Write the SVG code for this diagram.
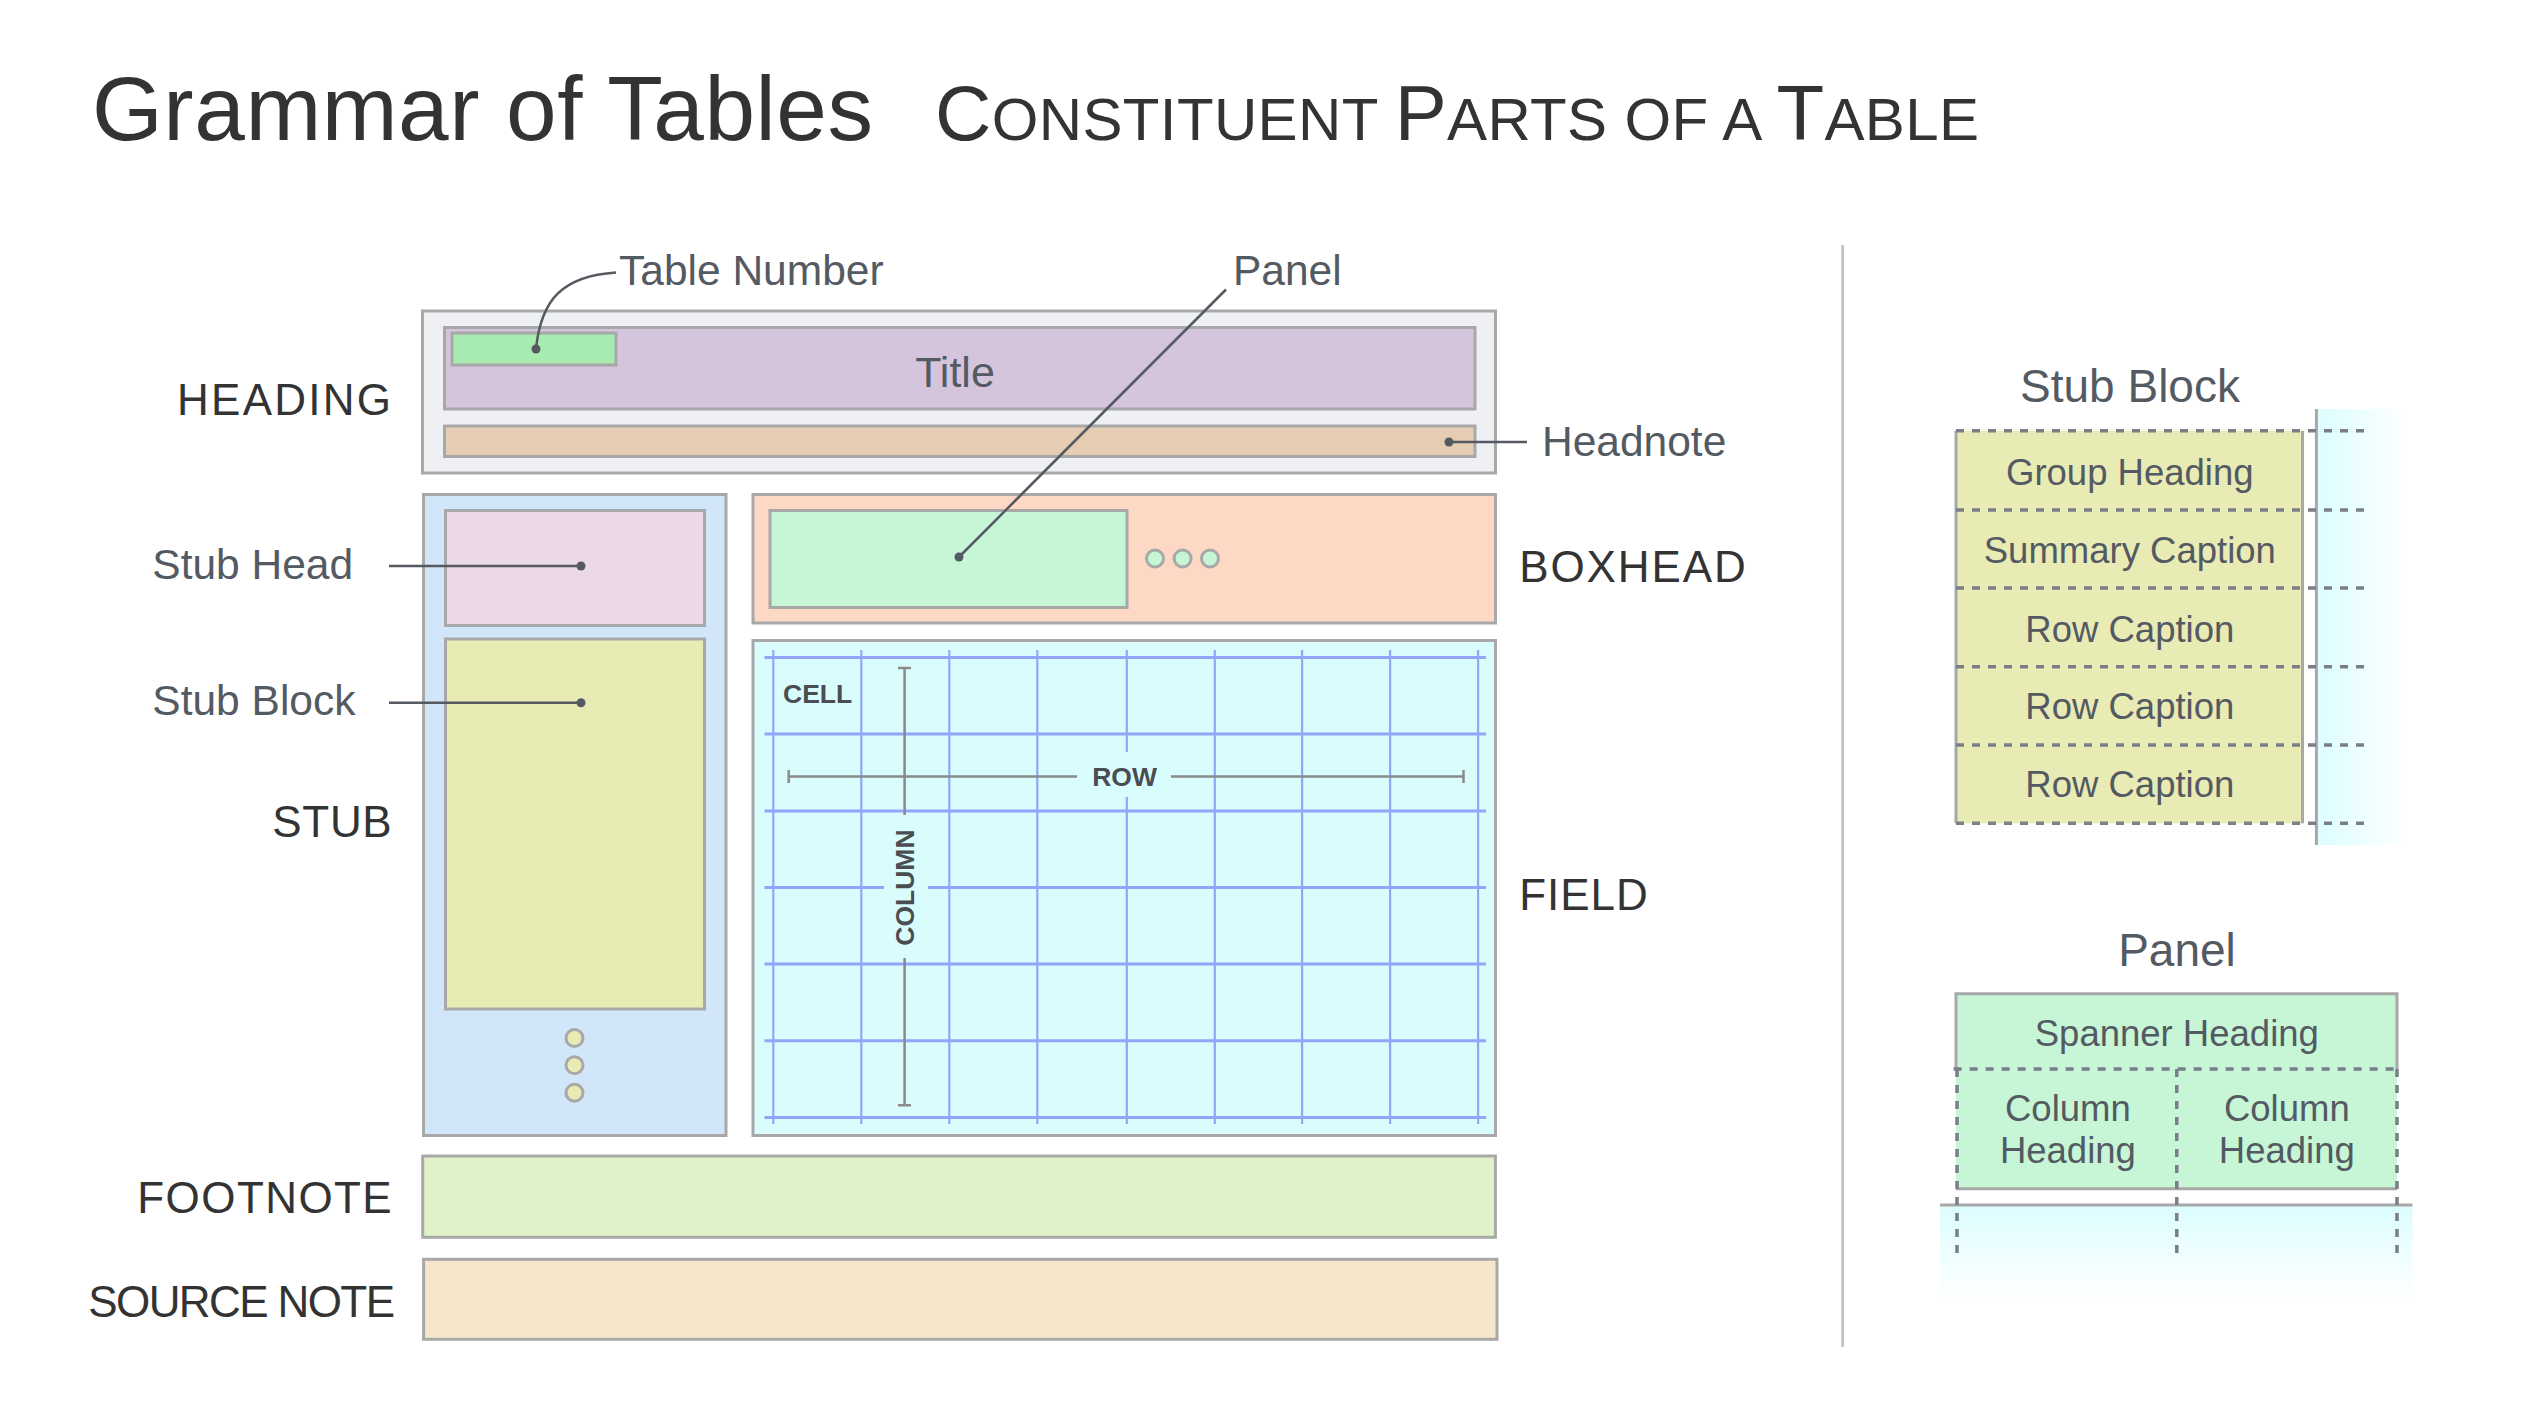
<svg xmlns="http://www.w3.org/2000/svg" width="2530" height="1404" viewBox="0 0 2530 1404">
<defs>
<style>
.t{font-family:"Helvetica Neue","Liberation Sans",Arial,sans-serif;}
.dark{fill:#333333;}
.soft{fill:#545a62;}
.box{stroke:#a8a8a8;stroke-width:3;}
.lead{stroke:#555a62;stroke-width:2.5;fill:none;}
.dot{fill:#555a62;}
.gh{stroke:#94a4fb;stroke-width:3;}
.gv{stroke:#94a4fb;stroke-width:2.2;}
.meas{stroke:#8a8a8a;stroke-width:2.5;fill:none;}
.dash{stroke:#7a7f87;stroke-width:3.5;stroke-dasharray:8 8;fill:none;}
.bold{font-weight:bold;fill:#4a4d52;font-size:26.5px;}
.cap{font-size:44px;}
.lab{font-size:42.5px;}
.rt{font-size:36.5px;}
</style>
<linearGradient id="gH" x1="0" y1="0" x2="1" y2="0">
<stop offset="0" stop-color="#dcfdff"/>
<stop offset="1" stop-color="#ffffff"/>
</linearGradient>
<linearGradient id="gV" x1="0" y1="0" x2="0" y2="1">
<stop offset="0" stop-color="#dcfdff"/>
<stop offset="1" stop-color="#ffffff"/>
</linearGradient>
</defs>
<rect width="2530" height="1404" fill="#ffffff"/>

<g id="title">
<text class="t dark" x="92" y="140" font-size="91" textLength="781" lengthAdjust="spacing">Grammar of Tables</text>
<text class="t dark" x="935" y="140" font-size="60" textLength="1044" lengthAdjust="spacing"><tspan font-size="78">C</tspan>ONSTITUENT <tspan font-size="78">P</tspan>ARTS OF A <tspan font-size="78">T</tspan>ABLE</text>
</g>

<g id="heading">
<rect class="box" x="422.5" y="311" width="1073" height="162" fill="#eff0f4"/>
<rect class="box" x="444.5" y="327.5" width="1030.5" height="81.5" fill="#d4c5dd"/>
<text class="t soft" x="955" y="386.5" font-size="43" text-anchor="middle">Title</text>
<rect class="box" x="452" y="333" width="164" height="32" fill="#a8ebb0"/>
<rect class="box" x="444.5" y="426" width="1030.5" height="30.5" fill="#e4cdb3"/>
<text class="t dark cap" x="391" y="415" text-anchor="end" textLength="214" lengthAdjust="spacing">HEADING</text>
</g>

<g id="table-number-label"><text class="t soft lab" x="619" y="285">Table Number</text></g>
<g id="panel-label"><text class="t soft lab" x="1233" y="285">Panel</text></g>
<g id="headnote-label"><text class="t soft lab" x="1542" y="456">Headnote</text></g>

<g id="stub">
<rect class="box" x="423.5" y="494.5" width="302.5" height="641" fill="#d2e6fa"/>
<rect class="box" x="445.5" y="510.5" width="259" height="115" fill="#ecd9e8"/>
<rect class="box" x="445.5" y="639" width="259" height="370" fill="#e9ebb5"/>
<circle class="box" cx="574.5" cy="1038" r="8.5" fill="#e9ebb5" stroke-width="2.5"/>
<circle class="box" cx="574.5" cy="1065.3" r="8.5" fill="#e9ebb5" stroke-width="2.5"/>
<circle class="box" cx="574.5" cy="1092.7" r="8.5" fill="#e9ebb5" stroke-width="2.5"/>
<text class="t soft lab" x="152.3" y="579.3">Stub Head</text>
<text class="t soft lab" x="152.3" y="715">Stub Block</text>
<text class="t dark cap" x="391.7" y="837.3" text-anchor="end" textLength="119.4" lengthAdjust="spacing">STUB</text>
</g>

<g id="boxhead">
<rect class="box" x="753" y="494.5" width="742.5" height="128.5" fill="#fdd9c5"/>
<rect class="box" x="770" y="510.5" width="357" height="97" fill="#c6f6d5"/>
<circle class="box" cx="1155" cy="558.5" r="8.5" fill="#c6f6d5" stroke-width="2.5"/>
<circle class="box" cx="1182.6" cy="558.5" r="8.5" fill="#c6f6d5" stroke-width="2.5"/>
<circle class="box" cx="1210" cy="558.5" r="8.5" fill="#c6f6d5" stroke-width="2.5"/>
<text class="t dark cap" x="1519.3" y="581.7" textLength="226.4" lengthAdjust="spacing">BOXHEAD</text>
</g>

<g id="field">
<rect class="box" x="753" y="640.5" width="742.5" height="495" fill="#d9fdfd"/>
<g>
<line class="gh" x1="764.5" y1="657.4" x2="1486" y2="657.4"/>
<line class="gh" x1="764.5" y1="734.1" x2="1486" y2="734.1"/>
<line class="gh" x1="764.5" y1="810.9" x2="1486" y2="810.9"/>
<line class="gh" x1="764.5" y1="887.6" x2="1486" y2="887.6"/>
<line class="gh" x1="764.5" y1="964" x2="1486" y2="964"/>
<line class="gh" x1="764.5" y1="1040.7" x2="1486" y2="1040.7"/>
<line class="gh" x1="764.5" y1="1117.5" x2="1486" y2="1117.5"/>
<line class="gv" x1="773.3" y1="650" x2="773.3" y2="1124"/>
<line class="gv" x1="861.3" y1="650" x2="861.3" y2="1124"/>
<line class="gv" x1="949.3" y1="650" x2="949.3" y2="1124"/>
<line class="gv" x1="1037.3" y1="650" x2="1037.3" y2="1124"/>
<line class="gv" x1="1126.8" y1="650" x2="1126.8" y2="1124"/>
<line class="gv" x1="1214.8" y1="650" x2="1214.8" y2="1124"/>
<line class="gv" x1="1302.1" y1="650" x2="1302.1" y2="1124"/>
<line class="gv" x1="1390.1" y1="650" x2="1390.1" y2="1124"/>
<line class="gv" x1="1478.1" y1="650" x2="1478.1" y2="1124"/>
</g>
<rect x="1078" y="752" width="92" height="45" fill="#d9fdfd"/>
<rect x="884" y="815" width="44" height="143" fill="#d9fdfd"/>
<path class="meas" d="M788.7,776.6 H1077 M1171,776.6 H1463.5 M788.7,770 V783 M1463.5,770 V783"/>
<path class="meas" d="M904.6,668 V815 M904.6,958 V1105.3 M898,668 H911 M898,1105.3 H911"/>
<text class="t bold" x="783" y="703">CELL</text>
<text class="t bold" x="1124.6" y="785.5" text-anchor="middle">ROW</text>
<text class="t bold" transform="translate(914,887.6) rotate(-90)" text-anchor="middle">COLUMN</text>
<text class="t dark cap" x="1519.3" y="910" textLength="128.4" lengthAdjust="spacing">FIELD</text>
</g>

<g id="footnote">
<rect class="box" x="422.7" y="1156" width="1072.7" height="81.3" fill="#e0f3c8"/>
<text class="t dark cap" x="391.7" y="1213.3" text-anchor="end" textLength="254.4" lengthAdjust="spacing">FOOTNOTE</text>
</g>

<g id="source-note">
<rect class="box" x="423.6" y="1259.3" width="1073.4" height="80" fill="#f5e6cb"/>
<text class="t dark cap" x="395" y="1316.7" text-anchor="end" textLength="306.7" lengthAdjust="spacing">SOURCE NOTE</text>
</g>

<g id="connectors">
<path class="lead" d="M536,349 C541,300 562,276 616,272.5"/>
<circle class="dot" cx="536" cy="349" r="4.5"/>
<path class="lead" d="M1226,289.5 L959,557"/>
<circle class="dot" cx="959" cy="557" r="4.5"/>
<path class="lead" d="M1449,442 H1527"/>
<circle class="dot" cx="1449" cy="442" r="4.5"/>
<path class="lead" d="M389,566 H581"/>
<circle class="dot" cx="581" cy="566" r="4.5"/>
<path class="lead" d="M389,702.7 H581"/>
<circle class="dot" cx="581" cy="702.7" r="4.5"/>
</g>

<g id="divider">
<line x1="1842.6" y1="245" x2="1842.6" y2="1347" stroke="#bdbdbd" stroke-width="2.5"/>
</g>

<g id="stub-block-detail">
<text class="t soft" x="2130" y="401.7" font-size="46" text-anchor="middle">Stub Block</text>
<rect x="2316.4" y="409" width="94" height="436" fill="url(#gH)"/>
<rect x="1956" y="430.7" width="346.5" height="392.6" fill="#e9ebb5"/>
<path d="M1956,430.7 V823.3 M2302.5,430.7 V823.3" stroke="#a8a8a8" stroke-width="3" fill="none"/>
<line x1="2316.4" y1="409" x2="2316.4" y2="845" stroke="#a8a8a8" stroke-width="3"/>
<path class="dash" d="M1956,430.7 H2368 M1956,510 H2368 M1956,588 H2368 M1956,666.7 H2368 M1956,745 H2368 M1956,823.3 H2368"/>
<text class="t soft rt" x="2129.8" y="485" text-anchor="middle">Group Heading</text>
<text class="t soft rt" x="2129.8" y="562.7" text-anchor="middle">Summary Caption</text>
<text class="t soft rt" x="2129.8" y="641.7" text-anchor="middle">Row Caption</text>
<text class="t soft rt" x="2129.8" y="719.3" text-anchor="middle">Row Caption</text>
<text class="t soft rt" x="2129.8" y="796.7" text-anchor="middle">Row Caption</text>
</g>

<g id="panel-detail">
<text class="t soft" x="2177" y="965.7" font-size="46" text-anchor="middle">Panel</text>
<rect x="1940" y="1205" width="472.5" height="95" fill="url(#gV)"/>
<rect x="1956" y="993.7" width="441" height="195" fill="#c6f6d5"/>
<path d="M1956,1069 V993.7 H2397 V1069 M1956,1188.7 H2397" stroke="#a8a8a8" stroke-width="3" fill="none"/>
<line x1="1940" y1="1205" x2="2412.5" y2="1205" stroke="#a8a8a8" stroke-width="3"/>
<path class="dash" d="M1953.6,1069 H2398 M1957,1069 V1257 M2176.8,1069 V1257 M2397,1069 V1257"/>
<text class="t soft rt" x="2176.8" y="1045.7" text-anchor="middle">Spanner Heading</text>
<text class="t soft rt" x="2067.9" y="1120.7" text-anchor="middle">Column</text>
<text class="t soft rt" x="2067.9" y="1163.3" text-anchor="middle">Heading</text>
<text class="t soft rt" x="2286.8" y="1120.7" text-anchor="middle">Column</text>
<text class="t soft rt" x="2286.8" y="1163.3" text-anchor="middle">Heading</text>
</g>
</svg>
